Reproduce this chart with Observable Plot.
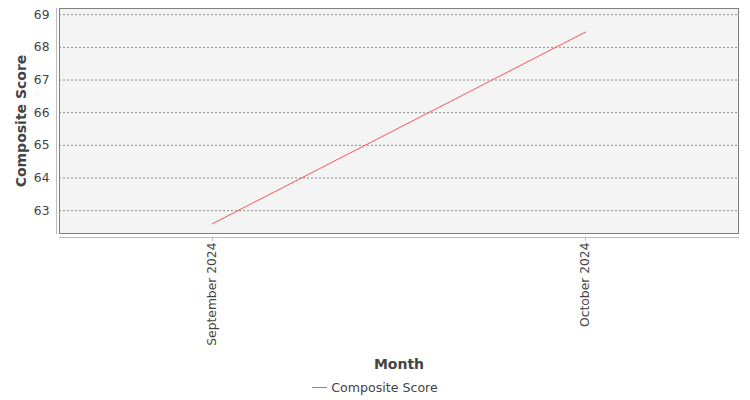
<!DOCTYPE html>
<html>
<head>
<meta charset="utf-8">
<script src="https://cdn.jsdelivr.net/npm/d3@7"></script>
<script src="https://cdn.jsdelivr.net/npm/@observablehq/plot@0.6"></script>
<style>
  body { margin: 0; background: #fff; font-family: "DejaVu Sans", sans-serif; }
  #legend { display: flex; justify-content: center; align-items: center; height: 25px; font-size: 12.6px; color: #444; }
  #legend .sw { width: 15px; height: 0; border-top: 1px solid #ff5555; margin-right: 4px; }
</style>
</head>
<body>
<div id="chart"></div>
<div id="legend"><span class="sw"></span><span>Composite Score</span></div>
<script>
const months = ["September 2024", "October 2024"];
const scores = [62.6, 68.47];
const yTicks = [63, 64, 65, 66, 67, 68, 69];
const seriesName = "Composite Score";

const data = months.map((m, i) => ({month: m, score: scores[i]}));

const chart = Plot.plot({
  width: 750,
  height: 375,
  marginLeft: 59,
  marginRight: 12,
  marginTop: 8,
  marginBottom: 142,
  style: {fontFamily: "DejaVu Sans, sans-serif", fontSize: "12px", color: "#444", background: "#fff"},
  x: {type: "point", domain: months, padding: 0.41},
  y: {domain: [62.3, 69.19]},
  marks: [
    Plot.frame({fill: "#f4f4f4", stroke: "#808080"}),
    Plot.gridY(yTicks, {stroke: "#8a8a8a", strokeOpacity: 1, strokeDasharray: "2,2"}),
    Plot.frame({anchor: "left", dx: -3, stroke: "#bbb"}),
    Plot.frame({anchor: "bottom", dy: 4, stroke: "#bbb"}),
    Plot.axisY(yTicks, {tickSize: 0, tickPadding: 10, label: null, fill: "#444", fontSize: 12.3}),
    Plot.axisX({tickSize: 4, dy: 4, tickRotate: -90, tickPadding: 1, label: null, stroke: "#bbb", fill: "#444", fontSize: 12.3}),
    Plot.line(data, {x: "month", y: "score", stroke: "#ff5555", strokeWidth: 1}),
    Plot.text([seriesName], {frameAnchor: "left", dx: -38, rotate: -90, textAnchor: "middle", fontSize: 14, fill: "#444", fontWeight: "bold"}),
    Plot.text(["Month"], {frameAnchor: "bottom", dy: 135, fontSize: 14, fill: "#444", fontWeight: "bold"})
  ]
});
document.getElementById("chart").appendChild(chart);
</script>
</body>
</html>
